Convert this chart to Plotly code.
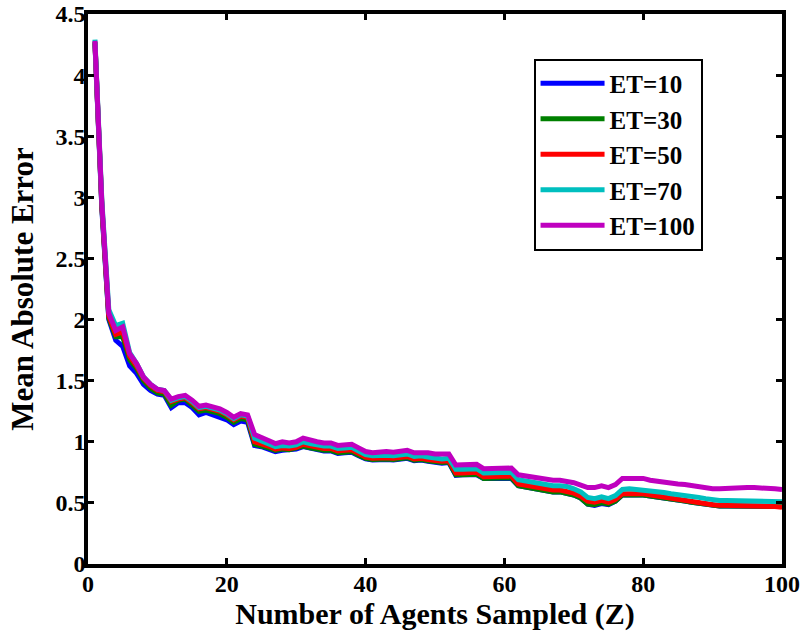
import plotly.graph_objects as go

x_agents = list(range(1, 101))

et100 = [4.28, 2.95, 2.05, 1.91, 1.94, 1.72, 1.64, 1.53, 1.47, 1.43,
         1.42, 1.35, 1.37, 1.38, 1.34, 1.29, 1.30, 1.29, 1.27, 1.24,
         1.20, 1.23, 1.22, 1.06, 1.04, 1.01, 0.985, 1.00, 0.99, 1.00,
         1.03, 1.01, 1.00, 0.99, 0.99, 0.97, 0.975, 0.98, 0.95, 0.92,
         0.91, 0.92, 0.92, 0.915, 0.925, 0.93, 0.91, 0.915, 0.91, 0.90,
         0.895, 0.90, 0.81, 0.81, 0.81, 0.815, 0.78, 0.78, 0.78, 0.785,
         0.785, 0.73, 0.72, 0.71, 0.705, 0.695, 0.685, 0.685, 0.68, 0.665,
         0.645, 0.625, 0.625, 0.64, 0.625, 0.65, 0.70, 0.70, 0.69, 0.70,
         0.685, 0.675, 0.665, 0.66, 0.655, 0.65, 0.64, 0.635, 0.625, 0.615,
         0.615, 0.62, 0.62, 0.62, 0.625, 0.625, 0.625, 0.615, 0.615, 0.61]

et70 = [4.29, 2.97, 2.08, 1.95, 1.97, 1.73, 1.64, 1.53, 1.47, 1.43,
        1.42, 1.34, 1.36, 1.37, 1.33, 1.28, 1.29, 1.28, 1.26, 1.23,
        1.19, 1.22, 1.21, 1.03, 1.01, 0.985, 0.96, 0.97, 0.965, 0.975,
        1.00, 0.985, 0.97, 0.965, 0.965, 0.945, 0.95, 0.955, 0.925, 0.895,
        0.885, 0.89, 0.89, 0.885, 0.895, 0.90, 0.88, 0.885, 0.875, 0.865,
        0.86, 0.865, 0.775, 0.775, 0.775, 0.78, 0.745, 0.745, 0.745, 0.75,
        0.75, 0.69, 0.68, 0.665, 0.66, 0.65, 0.64, 0.64, 0.635, 0.615,
        0.59, 0.545, 0.535, 0.55, 0.535, 0.56, 0.61, 0.615, 0.61, 0.61,
        0.60, 0.59, 0.585, 0.575, 0.57, 0.565, 0.555, 0.545, 0.535, 0.525,
        0.52, 0.52, 0.52, 0.52, 0.52, 0.52, 0.52, 0.515, 0.515, 0.51]

et50 = [4.27, 2.93, 2.03, 1.88, 1.90, 1.70, 1.62, 1.52, 1.46, 1.42,
        1.41, 1.33, 1.35, 1.36, 1.32, 1.27, 1.28, 1.27, 1.25, 1.22,
        1.18, 1.21, 1.20, 1.00, 0.985, 0.965, 0.94, 0.95, 0.945, 0.955,
        0.98, 0.965, 0.95, 0.945, 0.945, 0.925, 0.93, 0.935, 0.905, 0.875,
        0.865, 0.87, 0.87, 0.865, 0.875, 0.88, 0.86, 0.865, 0.855, 0.845,
        0.84, 0.845, 0.745, 0.745, 0.745, 0.75, 0.715, 0.715, 0.715, 0.72,
        0.72, 0.655, 0.645, 0.63, 0.625, 0.615, 0.605, 0.605, 0.595, 0.58,
        0.555, 0.515, 0.505, 0.52, 0.505, 0.53, 0.575, 0.58, 0.575, 0.575,
        0.565, 0.555, 0.55, 0.54, 0.535, 0.525, 0.515, 0.505, 0.495, 0.485,
        0.48, 0.48, 0.48, 0.48, 0.48, 0.48, 0.48, 0.475, 0.47, 0.465]

et30 = [4.27, 2.92, 2.01, 1.86, 1.86, 1.67, 1.60, 1.50, 1.44, 1.40,
        1.39, 1.30, 1.34, 1.35, 1.30, 1.25, 1.26, 1.25, 1.23, 1.20,
        1.16, 1.19, 1.18, 0.98, 0.97, 0.95, 0.93, 0.94, 0.935, 0.945,
        0.965, 0.95, 0.935, 0.93, 0.93, 0.91, 0.915, 0.92, 0.89, 0.865,
        0.855, 0.86, 0.86, 0.855, 0.865, 0.87, 0.85, 0.855, 0.845, 0.835,
        0.83, 0.835, 0.73, 0.73, 0.73, 0.735, 0.70, 0.70, 0.70, 0.705,
        0.705, 0.64, 0.63, 0.615, 0.61, 0.60, 0.59, 0.59, 0.58, 0.565,
        0.54, 0.49, 0.485, 0.50, 0.49, 0.515, 0.565, 0.57, 0.565, 0.565,
        0.555, 0.545, 0.54, 0.53, 0.525, 0.515, 0.505, 0.495, 0.485, 0.48,
        0.475, 0.475, 0.475, 0.475, 0.475, 0.475, 0.475, 0.47, 0.47, 0.47]

et10 = [4.26, 2.90, 2.00, 1.83, 1.78, 1.62, 1.56, 1.47, 1.42, 1.39,
        1.38, 1.28, 1.32, 1.32, 1.28, 1.22, 1.24, 1.22, 1.21, 1.18,
        1.14, 1.17, 1.16, 0.97, 0.96, 0.94, 0.92, 0.93, 0.93, 0.94,
        0.96, 0.945, 0.93, 0.925, 0.925, 0.905, 0.91, 0.915, 0.885, 0.86,
        0.85, 0.855, 0.855, 0.85, 0.86, 0.865, 0.845, 0.85, 0.84, 0.83,
        0.825, 0.83, 0.725, 0.73, 0.73, 0.73, 0.70, 0.70, 0.70, 0.705,
        0.70, 0.64, 0.63, 0.615, 0.61, 0.60, 0.59, 0.59, 0.58, 0.565,
        0.54, 0.49, 0.48, 0.495, 0.485, 0.515, 0.565, 0.57, 0.565, 0.565,
        0.555, 0.545, 0.54, 0.53, 0.525, 0.515, 0.505, 0.495, 0.485, 0.48,
        0.475, 0.475, 0.475, 0.475, 0.475, 0.475, 0.475, 0.47, 0.47, 0.47]

series_names = ["ET=10", "ET=30", "ET=50", "ET=70", "ET=100"]
series_values = [et10, et30, et50, et70, et100]
series_colors = ["#0000FF", "#008000", "#FF0000", "#00BFBF", "#BF00BF"]

x_tick_vals = [0, 20, 40, 60, 80, 100]
x_tick_text = ["0", "20", "40", "60", "80", "100"]
y_tick_vals = [0, 0.5, 1, 1.5, 2, 2.5, 3, 3.5, 4, 4.5]
y_tick_text = ["0", "0.5", "1", "1.5", "2", "2.5", "3", "3.5", "4", "4.5"]

FONT = "Liberation Serif"

fig = go.Figure()
for i, (name, vals, col) in enumerate(zip(series_names, series_values, series_colors)):
    fig.add_trace(go.Scatter(
        x=x_agents, y=vals, mode="lines", name=name,
        line=dict(color=col, width=5),
        legendgroup=f"g{i}",
    ))

axis_common = dict(
    showline=True, linecolor="black", linewidth=3.5, mirror="ticks",
    ticks="inside", ticklen=6, tickwidth=3, tickcolor="black",
    showgrid=False, zeroline=False, automargin=False,
    tickfont=dict(family=FONT, size=24, color="black", weight="bold"),
)

fig.update_layout(
    width=805, height=635,
    margin=dict(l=88, r=23, t=14, b=71),
    plot_bgcolor="white", paper_bgcolor="white",
    xaxis=dict(range=[0, 100], tickvals=x_tick_vals, ticktext=x_tick_text,
               ticklabelstandoff=-5,
               title=dict(text="Number of Agents Sampled (Z)", standoff=0,
                          font=dict(family=FONT, size=30, color="black", weight="bold")),
               **axis_common),
    yaxis=dict(range=[0, 4.5], tickvals=y_tick_vals, ticktext=y_tick_text,
               ticklabelstandoff=-6,
               title=dict(text="Mean Absolute Error", standoff=14,
                          font=dict(family=FONT, size=31, color="black", weight="bold")),
               **axis_common),
    legend=dict(
        x=0.642, y=0.919, xanchor="left", yanchor="top",
        bgcolor="white", bordercolor="black", borderwidth=2,
        font=dict(family=FONT, size=25, color="black", weight="bold"),
        tracegroupgap=0, itemwidth=64,
    ),
    showlegend=True,
)

fig.write_html("out.html", config={"displayModeBar": False},
               post_script="document.body.style.margin='0';")
